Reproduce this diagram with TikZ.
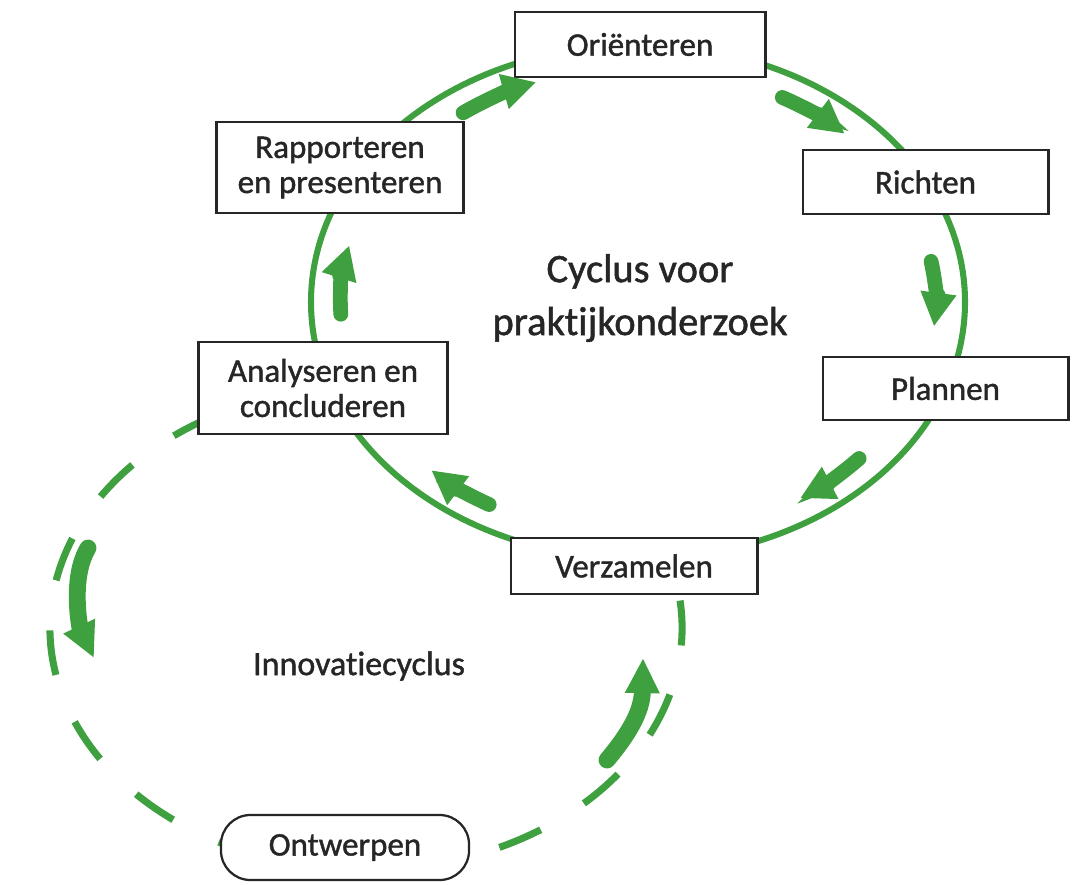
\documentclass[tikz,border=0pt]{standalone}
\usepackage{fontspec}
\setmainfont{Carlito}[Ligatures=NoCommon,UprightFeatures={FakeBold=1.2}]
\usetikzlibrary{arrows.meta,calc}
\definecolor{cgreen}{RGB}{62,160,62}
\definecolor{ink}{RGB}{38,38,38}
\begin{document}
\begin{tikzpicture}[x=0.025cm,y=-0.025cm,
  stage/.style={draw=ink,line width=2.1pt,fill=white,text=ink,align=center,inner sep=0pt,
    font=\fontsize{23.5pt}{25pt}\selectfont},
  roundstage/.style={stage,rounded corners=21pt,line width=1.6pt},
  mainline/.style={draw=cgreen,line width=4.3pt},
  dashline/.style={draw=cgreen,line width=5pt,dash pattern=on 32pt off 36pt,dash phase=35pt},
  flow/.style={draw=cgreen,line width=10.5pt,line cap=round,-{Triangle[length=24pt,width=24pt]}},
  bigflow/.style={draw=cgreen,line width=12pt,line cap=round,-{Triangle[length=25pt,width=23pt]}},
  label/.style={text=ink,align=center,inner sep=0pt}
]
\useasboundingbox (0,0) rectangle (1082,885);
\coordinate (C) at (638,302);
\coordinate (D) at (366,628);
% cycles
\draw[mainline] (C) ellipse[x radius=327, y radius=257];
\draw[dashline] ($(D)+(250:316 and 242)$) arc[start angle=250, end angle=-20, x radius=316, y radius=242];
% nodes
\node[stage,minimum width=6.25cm,minimum height=1.625cm] (ori) at (640,44.5) {Oriënteren};
\node[stage,minimum width=6.125cm,minimum height=1.6cm] (ric) at (925.5,182) {Richten};
\node[stage,minimum width=6.125cm,minimum height=1.575cm] (pla) at (945.5,388.5) {Plannen};
\node[stage,minimum width=6.15cm,minimum height=1.4cm] (ver) at (634,566) {Verzamelen};
\node[stage,minimum width=6.2cm,minimum height=2.3cm] (ana) at (323,388) {Analyseren en\\concluderen};
\node[stage,minimum width=6.15cm,minimum height=2.275cm] (rap) at (340,167.5) {Rapporteren\\en presenteren};
\node[roundstage,minimum width=6.2cm,minimum height=1.625cm] (ont) at (345,847.5) {Ontwerpen};
\node[label,font=\fontsize{28.8pt}{37.6pt}\selectfont] (cyc) at (640,298) {Cyclus voor\\praktijkonderzoek};
\node[label,font=\fontsize{24.2pt}{26pt}\selectfont] (inn) at (359,666) {Innovatiecyclus};
% direction arrows, main cycle
\draw[flow] ($(C)+(-126:297.6 and 233.9)$) arc[start angle=-126, end angle=-110, x radius=297.6, y radius=233.9];
\draw[flow] ($(C)+(-61:297.6 and 233.9)$) arc[start angle=-61, end angle=-46, x radius=297.6, y radius=233.9];
\draw[flow] ($(C)+(-10:297.6 and 233.9)$) arc[start angle=-10, end angle=6, x radius=297.6, y radius=233.9];
\draw[flow] ($(C)+(42:297.6 and 233.9)$) arc[start angle=42, end angle=57, x radius=297.6, y radius=233.9];
\draw[flow] ($(C)+(120:297.6 and 233.9)$) arc[start angle=120, end angle=134, x radius=297.6, y radius=233.9];
\draw[flow] ($(C)+(177:297.6 and 233.9)$) arc[start angle=177, end angle=194, x radius=297.6, y radius=233.9];
% direction arrows, innovation cycle
\coordinate (t7) at (88,548);
\coordinate (h7) at (94,658);
\coordinate (t8) at (607,760);
\coordinate (h8) at (643,658);
\draw[bigflow] (t7) .. controls (70,578) and (80,628) .. (h7);
\draw[bigflow] (t8) .. controls (628,735) and (642,712) .. (h8);
\end{tikzpicture}
\end{document}
